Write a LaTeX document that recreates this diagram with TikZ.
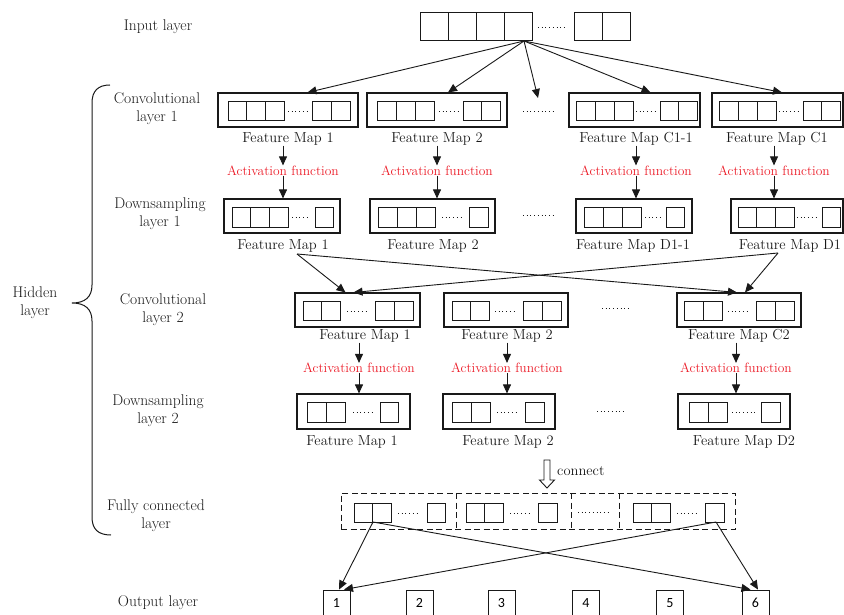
\documentclass[tikz,border=0pt]{standalone}
\usepackage{fontspec}
\newfontfamily\numfont{Carlito}
\usetikzlibrary{arrows.meta,fit}
\definecolor{ink}{RGB}{25,25,25}
\definecolor{actred}{RGB}{236,28,40}
\newcommand\cellrow[5]{\foreach \k in {1,...,#3}{\draw[cell] ({#1+(\k-1)*#4},#2) rectangle ++(#4,#5);}}
\newcommand\dotrow[3]{\draw[dotline] (#1,#3) -- (#2,#3);}
\begin{document}
\begin{tikzpicture}[x=1pt,y=-1pt,
  obox/.style={draw=ink, line width=1.1pt, inner sep=0pt},
  cell/.style={draw=ink, line width=0.9pt},
  side/.style={font=\fontsize{15.5}{18}\selectfont, text=ink, inner sep=0pt, align=center},
  flbl/.style={font=\fontsize{14.5}{17}\selectfont, text=ink, inner sep=0pt},
  act/.style={font=\fontsize{13.5}{16}\selectfont, text=actred, inner sep=0pt},
  arr/.style={draw=ink, line width=0.9pt, -{Triangle[length=9pt,width=8pt]}},
  dotline/.style={draw=ink, line width=0.8pt, dash pattern=on 0.8pt off 2.9pt},
  fcbox/.style={draw=ink, line width=1pt, dash pattern=on 6pt off 3.5pt, inner sep=0pt},
  obx/.style={draw=ink, line width=0.9pt, minimum width=27pt, minimum height=26pt, inner sep=0pt, font=\numfont\fontsize{14}{16}\selectfont}
]
\useasboundingbox (0,0) rectangle (844,615);
\clip (0,0) rectangle (844,615);

% ---------- side labels ----------
\node[side] (sIn) at (158,27) {Input layer};
\node[side] (sC1) at (157,109) {Convolutional\\layer 1};
\node[side] (sD1) at (160,214) {Downsampling\\layer 1};
\node[side] (sC2) at (163,310) {Convolutional\\layer 2};
\node[side] (sD2) at (158,411) {Downsampling\\layer 2};
\node[side] (sFC) at (156,516) {Fully connected\\layer};
\node[side] (sHid) at (35,303) {Hidden\\layer};
\node[side] (sOut) at (158,603) {Output layer};
\draw[ink, line width=1pt] (110,85) .. controls (98,85) and (92,91) .. (92,103)
  -- (92,285) .. controls (92,297) and (85,303) .. (72,303)
  .. controls (85,303) and (92,309) .. (92,321)
  -- (92,517) .. controls (92,529) and (98,535) .. (111,535);

% ---------- input layer ----------
\cellrow{420}{12}{4}{28}{28}
\cellrow{574}{12}{2}{28}{28}
\node[inner sep=0pt, fit={(420,12) (532,40)}] (in1) {};
\node[inner sep=0pt, fit={(574,12) (630,40)}] (in2) {};
\dotrow{538}{567}{27}
\coordinate (inS) at (524,41);
\coordinate (midT) at (538,98);

% ---------- convolutional layer 1 ----------
\node[obox, fit={(218,93) (358,127)}] (c1a) {};
\cellrow{228}{101}{3}{18.7}{19} \dotrow{288}{310}{111} \cellrow{312}{101}{2}{19}{19}
\node[obox, fit={(367,93) (507,127)}] (c1b) {};
\cellrow{377}{101}{3}{19.3}{19} \dotrow{439}{460}{111} \cellrow{463}{101}{2}{18.5}{19}
\node[obox, fit={(569,93) (700,127)}] (c1c) {};
\cellrow{576}{101}{3}{19}{19} \dotrow{636}{657}{111} \cellrow{660}{101}{2}{18.5}{19}
\node[obox, fit={(712,93) (843,127)}] (c1d) {};
\cellrow{719}{101}{3}{19}{19} \dotrow{779}{800}{111} \cellrow{803}{101}{2}{18.5}{19}
\dotrow{523}{553}{111}

\node[flbl] (l1a) at (288,139) {Feature Map 1};
\node[flbl] (l1b) at (437,139) {Feature Map 2};
\node[flbl] (l1c) at (636,139) {Feature Map C1-1};
\node[flbl] (l1d) at (777,139) {Feature Map C1};

\draw[arr] (inS) -- ([xshift=19.5pt]c1a.north);
\draw[arr] (inS) -- ([xshift=11pt]c1b.north);
\draw[arr] (inS) -- (midT);
\draw[arr] (inS) -- ([xshift=16pt]c1c.north);
\draw[arr] (inS) -- ([xshift=4.5pt]c1d.north);

\node[act] (a1a) at (283,170.5) {Activation function};
\node[act] (a1b) at (437,170.5) {Activation function};
\node[act] (a1c) at (636,170.5) {Activation function};
\node[act] (a1d) at (774,170.5) {Activation function};

% ---------- downsampling layer 1 ----------
\node[obox, fit={(224,199) (340,233)}] (d1a) {};
\cellrow{232}{207}{3}{18.7}{20} \dotrow{292}{310}{217} \cellrow{315}{207}{1}{18.5}{20}
\node[obox, fit={(370,199) (495,233)}] (d1b) {};
\cellrow{378}{207}{3}{19}{20} \dotrow{442}{463}{217} \cellrow{469}{207}{1}{19}{20}
\node[obox, fit={(576,199) (692,233)}] (d1c) {};
\cellrow{584}{207}{3}{19.3}{20} \dotrow{645}{662}{217} \cellrow{666}{207}{1}{18.5}{20}
\node[obox, fit={(731,199) (843,233)}] (d1d) {};
\cellrow{738}{207}{3}{18.7}{20} \dotrow{797}{818}{217} \cellrow{822}{207}{1}{18.5}{20}
\dotrow{523}{553}{215}

\foreach \a/\b in {l1a/a1a,l1b/a1b,l1c/a1c,l1d/a1d}{\draw[arr] (\a.south -| \b.north) -- (\b.north);}
\draw[arr] (a1a.south) -- (d1a.north -| a1a.south);
\draw[arr] (a1b.south) -- (d1b.north -| a1b.south);
\draw[arr] (a1c.south) -- (d1c.north -| a1c.south);
\draw[arr] (a1d.south) -- (d1d.north -| a1d.south);

\node[flbl] (m1a) at (283,245.5) {Feature Map 1};
\node[flbl] (m1b) at (433,245.5) {Feature Map 2};
\node[flbl] (m1c) at (633,245.5) {Feature Map D1-1};
\node[flbl] (m1d) at (790,245.5) {Feature Map D1};
\coordinate (dsA) at (297,254);
\coordinate (dsB) at (778,253);

% ---------- convolutional layer 2 ----------
\node[obox, fit={(295,293) (420,327)}] (c2a) {};
\cellrow{303}{301}{2}{18.5}{19} \dotrow{347}{368}{311} \cellrow{375}{301}{2}{19}{19}
\node[obox, fit={(444,293) (568,327)}] (c2b) {};
\cellrow{452}{301}{2}{18.5}{19} \dotrow{495}{517}{311} \cellrow{523}{301}{2}{19}{19}
\node[obox, fit={(677,293) (801,327)}] (c2c) {};
\cellrow{684}{301}{2}{19}{19} \dotrow{728}{750}{311} \cellrow{756}{301}{2}{19}{19}
\dotrow{602}{630}{308}

\draw[arr] (dsA) -- ([xshift=-12pt]c2a.north);
\draw[arr] (dsB) -- ([xshift=-4pt]c2a.north);
\draw[arr] (dsA) -- ([xshift=-2pt]c2c.north);
\draw[arr] (dsB) -- ([xshift=6pt]c2c.north);

\node[flbl] (l2a) at (365,336) {Feature Map 1};
\node[flbl] (l2b) at (507,336) {Feature Map 2};
\node[flbl] (l2c) at (739,336) {Feature Map C2};

\node[act] (a2a) at (359,368) {Activation function};
\node[act] (a2b) at (507,368) {Activation function};
\node[act] (a2c) at (736,368) {Activation function};

% ---------- downsampling layer 2 ----------
\node[obox, fit={(297,394) (410,429)}] (d2a) {};
\cellrow{307}{402}{2}{19}{20} \dotrow{353}{374}{412} \cellrow{380}{402}{1}{18.5}{20}
\node[obox, fit={(443,394) (555,429)}] (d2b) {};
\cellrow{452}{402}{2}{19}{20} \dotrow{497}{518}{412} \cellrow{525}{402}{1}{19}{20}
\node[obox, fit={(678,394) (790,429)}] (d2c) {};
\cellrow{689}{402}{2}{19}{20} \dotrow{732}{755}{412} \cellrow{761}{402}{1}{19}{20}
\dotrow{597}{625}{411}

\foreach \a/\b in {l2a/a2a,l2b/a2b,l2c/a2c}{\draw[arr] (\a.south -| \b.north) -- (\b.north);}
\draw[arr] (a2a.south) -- (d2a.north -| a2a.south);
\draw[arr] (a2b.south) -- (d2b.north -| a2b.south);
\draw[arr] (a2c.south) -- (d2c.north -| a2c.south);

\node[flbl] (m2a) at (352,441.5) {Feature Map 1};
\node[flbl] (m2b) at (508,441.5) {Feature Map 2};
\node[flbl] (m2c) at (744,441.5) {Feature Map D2};

% ---------- connect ----------
\draw[draw=ink, line width=0.9pt, fill=white] (544,460) -- (550,460) -- (550,480) -- (554.5,480)
  -- (547,488) -- (539.5,480) -- (544,480) -- cycle;
\node[flbl, anchor=west] (conn) at (557,471) {connect};

% ---------- fully connected layer ----------
\node[fcbox, fit={(341,493) (735,529)}] (fc) {};
\draw[fcbox] (456,493) -- (456,529);
\draw[fcbox] (571,493) -- (571,529);
\draw[fcbox] (619,493) -- (619,529);
\cellrow{354}{503}{2}{18.5}{19} \dotrow{398}{420}{513} \cellrow{427}{503}{1}{18.5}{19}
\cellrow{466}{503}{2}{18.5}{19} \dotrow{510}{531}{513} \cellrow{538}{503}{1}{19}{19}
\dotrow{578}{608}{512}
\cellrow{633}{503}{2}{18.5}{19} \dotrow{677}{698}{513} \cellrow{705}{503}{1}{19}{19}
\coordinate (fcA) at (373,522);
\coordinate (fcB) at (716,522);

% ---------- output layer ----------
\node[obx] (o1) at (336.5,603) {1};
\node[obx] (o2) at (419.5,603) {2};
\node[obx] (o3) at (501.5,603) {3};
\node[obx] (o4) at (586,603) {4};
\node[obx] (o5) at (670,603) {5};
\node[obx] (o6) at (755.5,603) {6};

\draw[arr] (fcA) -- ([xshift=2.5pt]o1.north);
\draw[arr] (fcB) -- ([xshift=7.5pt]o1.north);
\draw[arr] (fcA) -- ([xshift=-5pt]o6.north);
\draw[arr] (fcB) -- ([xshift=2.5pt]o6.north);
\end{tikzpicture}
\end{document}
